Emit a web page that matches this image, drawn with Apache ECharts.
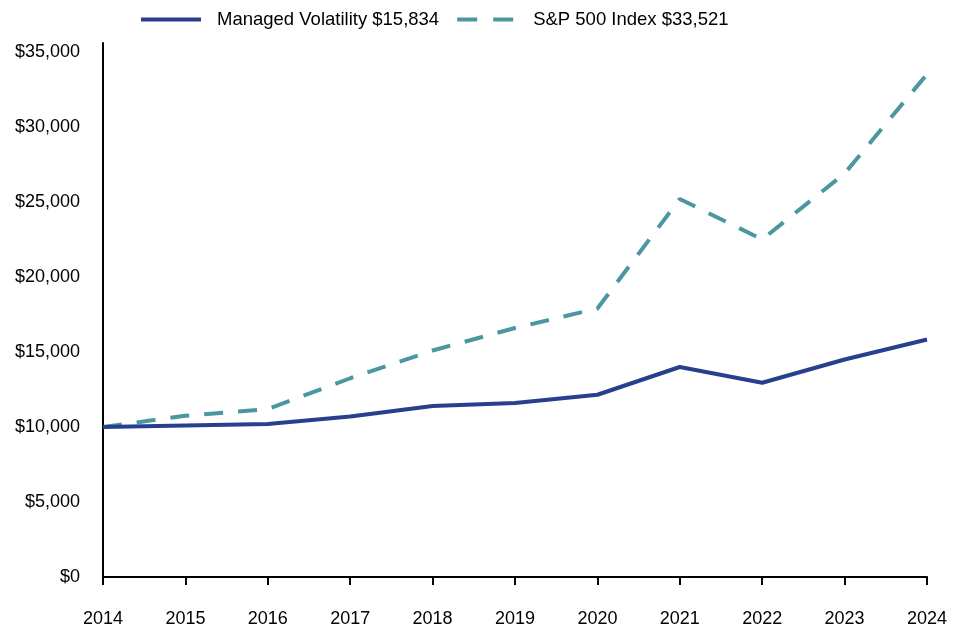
<!DOCTYPE html>
<html>
<head>
<meta charset="utf-8">
<script src="https://cdn.jsdelivr.net/npm/echarts@6/dist/echarts.min.js"></script>
<style>
  html, body { margin: 0; padding: 0; background: #fff; }
  #main { width: 962px; height: 628px; }
</style>
</head>
<body>
<div id="main"></div>
<script>
var years = ['2014', '2015', '2016', '2017', '2018', '2019', '2020', '2021', '2022', '2023', '2024'];
var managedVol = [10000, 10100, 10200, 10700, 11400, 11600, 12150, 14000, 12950, 14500, 15834];
var sp500 = [10000, 10750, 11200, 13250, 15100, 16600, 17900, 25200, 22500, 26900, 33521];
var seriesNames = ['Managed Volatility $15,834', 'S&P 500 Index $33,521'];

var chartDom = document.getElementById('main');
var myChart = echarts.init(chartDom);
var option;

option = {
  backgroundColor: '#fff',
  animation: false,
  textStyle: { fontFamily: 'Liberation Sans, Arial, sans-serif' },
  legend: {
    top: 10,
    left: 139,
    padding: 0,
    itemWidth: 60,
    itemHeight: 8,
    itemGap: 16,
    itemStyle: { opacity: 0 },
    lineStyle: { width: 4 },
    textStyle: { fontSize: 18.5, color: '#000', padding: [0, 0, 0, 11] },
    data: [
      { name: seriesNames[0] },
      { name: seriesNames[1], lineStyle: { type: [20, 16], width: 4 } }
    ]
  },
  grid: {
    left: 103,
    right: 35,
    top: 43,
    bottom: 50
  },
  xAxis: {
    type: 'category',
    boundaryGap: false,
    data: years,
    axisLine: { lineStyle: { color: '#000', width: 2 } },
    axisTick: { show: true, length: 8, lineStyle: { color: '#000', width: 2 } },
    axisLabel: { fontSize: 18, color: '#000', margin: 33 }
  },
  yAxis: {
    type: 'value',
    min: 0,
    max: 35600,
    interval: 5000,
    splitLine: { show: false },
    axisLine: { show: true, lineStyle: { color: '#000', width: 2 } },
    axisTick: { show: false },
    axisLabel: {
      fontSize: 18,
      color: '#000',
      margin: 23,
      formatter: function (v) {
        if (v % 5000 !== 0) return '';
        return '$' + v.toLocaleString('en-US');
      }
    }
  },
  series: [
    {
      name: seriesNames[0],
      type: 'line',
      data: managedVol,
      symbol: 'none',
      color: '#283f8d',
      lineStyle: { width: 4, color: '#283f8d' },
      z: 3
    },
    {
      name: seriesNames[1],
      type: 'line',
      data: sp500,
      symbol: 'none',
      color: '#4a97a1',
      lineStyle: { width: 4, color: '#4a97a1', type: [19, 15] },
      z: 2
    }
  ]
};

option && myChart.setOption(option);
</script>
</body>
</html>
